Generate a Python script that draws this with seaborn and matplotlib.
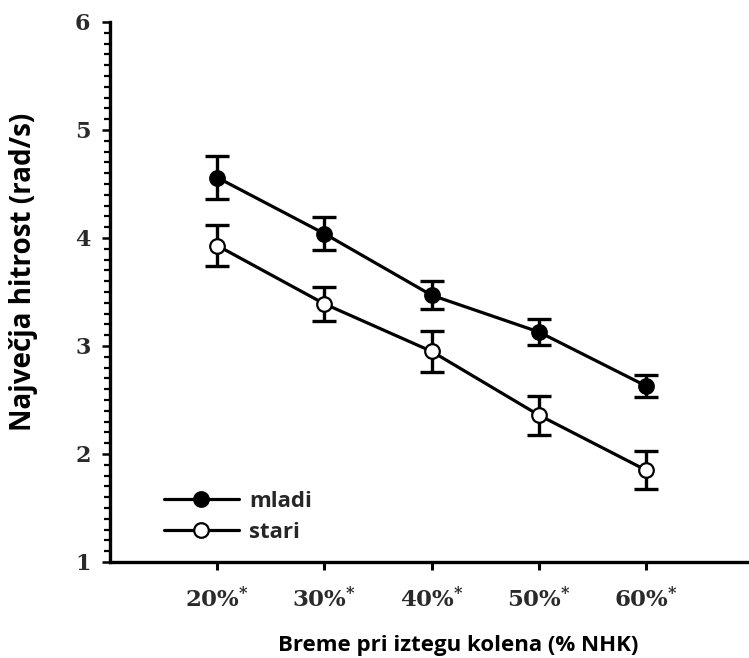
import matplotlib
matplotlib.use("Agg")
import matplotlib.pyplot as plt
import seaborn as sns
import pandas as pd
from matplotlib.lines import Line2D
from matplotlib.ticker import MultipleLocator

# ---- data ----
categories = ["20%", "30%", "40%", "50%", "60%"]
mladi_mean = [4.56, 4.04, 3.47, 3.13, 2.63]
mladi_err = [0.20, 0.15, 0.13, 0.12, 0.105]
stari_mean = [3.93, 3.39, 2.95, 2.36, 1.85]
stari_err = [0.19, 0.16, 0.19, 0.18, 0.175]
series_labels = ["mladi", "stari"]
y_ticks = [1, 2, 3, 4, 5, 6]
x_label = "Breme pri iztegu kolena (% NHK)"
y_label = "Največja hitrost (rad/s)"

sns.set_style("ticks")
plt.rcParams['font.family'] = ['Open Sans', 'DejaVu Sans']
plt.rcParams['mathtext.fontset'] = 'dejavuserif'

fig = plt.figure(figsize=(7.49, 6.58), dpi=100)
ax = fig.add_axes([110/749, 96/658, 639/749, 540/658])

pos = list(range(len(categories)))
df = pd.DataFrame({
    "pos": pos * 2,
    "value": mladi_mean + stari_mean,
    "err": mladi_err + stari_err,
    "group": [series_labels[0]] * len(pos) + [series_labels[1]] * len(pos),
})

face = {series_labels[0]: "black", series_labels[1]: "white"}
for g in series_labels:
    sub = df[df["group"] == g]
    ax.errorbar(sub["pos"], sub["value"], yerr=sub["err"], fmt="none",
                ecolor="black", elinewidth=2.4, capsize=8.5, capthick=2.4, zorder=2)
    sns.lineplot(data=sub, x="pos", y="value", ax=ax, color="black", lw=2.3,
                 marker="o", markersize=10.5, markerfacecolor=face[g],
                 markeredgecolor="black", markeredgewidth=1.6,
                 errorbar=None, legend=False, zorder=3)

ax.set_xlim(-1.0, 4.96)
ax.set_ylim(1, 6)
ax.set_xticks(pos)
ax.set_xticklabels([c + r"$^{\mathbf{*}}$" for c in categories],
                   fontfamily="DejaVu Serif", fontweight="bold",
                   fontsize=16.5, color="#2a2a2a")
ax.set_yticks(y_ticks)
ax.set_yticklabels([str(v) for v in y_ticks], fontfamily="DejaVu Serif",
                   fontweight="bold", fontsize=16, color="#2a2a2a")
ax.yaxis.set_minor_locator(MultipleLocator(0.1))

sns.despine(ax=ax)
for s in ["left", "bottom"]:
    ax.spines[s].set_linewidth(2.4)
    ax.spines[s].set_color("black")

ax.tick_params(axis="y", which="major", length=6, width=1.8, pad=8, color="black")
ax.tick_params(axis="y", which="minor", length=4, width=1.6, color="black")
ax.tick_params(axis="x", which="major", length=6, width=2.2, pad=12, color="black")

ax.set_xlabel(x_label, fontsize=16, fontweight="bold", color="black", va="top")
ax.xaxis.set_label_coords(0.545, -0.135)
ax.set_ylabel(y_label, fontsize=20, fontweight="bold", color="black", va="center")
ax.yaxis.set_label_coords(-0.135, 0.537)

handles = [
    Line2D([], [], color="black", lw=2.3, marker="o", markersize=10.5,
           markerfacecolor=face[g], markeredgecolor="black", markeredgewidth=1.6)
    for g in series_labels
]
leg = ax.legend(handles, series_labels, loc="upper left",
                bbox_to_anchor=(0.07, 0.148), frameon=False, handlelength=3.4,
                handletextpad=0.45, labelspacing=0.45, borderaxespad=0,
                prop={"family": ["Open Sans", "DejaVu Sans"], "weight": "bold", "size": 16})

fig.savefig("out.png", dpi=100)
